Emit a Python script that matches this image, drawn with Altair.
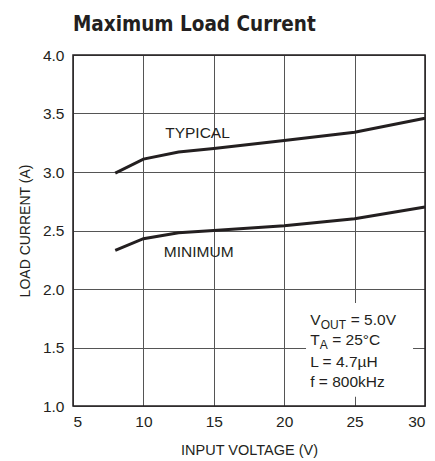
import altair as alt
import pandas as pd

# Data
input_v = [8, 10, 12.5, 15, 20, 25, 30]
typical = [2.99, 3.11, 3.17, 3.20, 3.27, 3.34, 3.46]
minimum = [2.33, 2.43, 2.48, 2.50, 2.54, 2.60, 2.70]

x_ticks = [5, 10, 15, 20, 25, 30]
y_ticks = [1.0, 1.5, 2.0, 2.5, 3.0, 3.5, 4.0]

curve_labels = ["TYPICAL", "MINIMUM"]
curve_label_x = [11.55, 11.45]
curve_label_y = [3.33, 2.315]

box_x = [21.55, 29.15]
box_y = [1.08, 1.88]

cond_x = 21.85
cond_lines_y = [1.69, 1.52, 1.335, 1.16]

FONT = "Liberation Sans"
TFONT = "DejaVu Sans Condensed, Liberation Sans, sans-serif"
INK = "#231f20"

df = pd.DataFrame({
    "v": input_v * 2,
    "i": typical + minimum,
    "s": ["TYPICAL"] * len(input_v) + ["MINIMUM"] * len(input_v),
})

xs = alt.Scale(domain=[5, 30], nice=False)
ys = alt.Scale(domain=[1.0, 4.0], nice=False)

lines = alt.Chart(df).mark_line(color=INK, strokeWidth=3, strokeCap="butt").encode(
    x=alt.X("v:Q", scale=xs,
            axis=alt.Axis(values=x_ticks, title="INPUT VOLTAGE (V)", format="d",
                          grid=True, gridColor="#555555", gridWidth=1, ticks=False,
                          domain=False, labelPadding=8, titlePadding=14,
                          labelFontSize=15.5, titleFontSize=14.5, labelFont=FONT,
                          titleFont=FONT, titleFontWeight="normal",
                          labelColor=INK, titleColor=INK)),
    y=alt.Y("i:Q", scale=ys,
            axis=alt.Axis(values=y_ticks, title="LOAD CURRENT (A)", format=".1f",
                          grid=True, gridColor="#555555", gridWidth=1, ticks=False,
                          domain=False, labelPadding=9, titlePadding=10,
                          labelFontSize=15.5, titleFontSize=14, labelFont=FONT,
                          titleFont=FONT, titleFontWeight="normal",
                          labelColor=INK, titleColor=INK)),
    detail="s:N",
)

box_df = pd.DataFrame({"x1": [box_x[0]], "x2": [box_x[1]], "y1": [box_y[0]], "y2": [box_y[1]]})
box = alt.Chart(box_df).mark_rect(color="white").encode(
    x=alt.X("x1:Q", scale=xs), x2="x2:Q", y=alt.Y("y1:Q", scale=ys), y2="y2:Q")

lab_df = pd.DataFrame({"t": curve_labels, "x": curve_label_x, "y": curve_label_y})
labs = alt.Chart(lab_df).mark_text(font=FONT, fontSize=15.5, color=INK, align="left",
                                   baseline="middle").encode(
    x=alt.X("x:Q", scale=xs), y=alt.Y("y:Q", scale=ys), text="t:N")

# Condition text lines with subscripts built from pieces
cond_df = pd.DataFrame({
    "t": ["V", "OUT", "= 5.0V", "T", "A", "= 25°C", "L = 4.7µH", "f = 800kHz"],
    "x": [cond_x] * 8,
    "y": [cond_lines_y[0], cond_lines_y[0], cond_lines_y[0],
          cond_lines_y[1], cond_lines_y[1], cond_lines_y[1],
          cond_lines_y[2], cond_lines_y[3]],
    "dx": [0, 10.5, 40.5, 0, 9.5, 22, 0, 0],
    "dy": [0, 4, 0, 0, 4, 0, 0, 0],
    "fs": [15.5, 12, 15.5, 15.5, 12, 15.5, 15.5, 15.5],
})
cond_layers = []
for _, r in cond_df.iterrows():
    one = pd.DataFrame([r])
    cond_layers.append(
        alt.Chart(one).mark_text(font=FONT, fontSize=float(r["fs"]), color=INK,
                                 align="left", baseline="alphabetic",
                                 dx=float(r["dx"]), dy=float(r["dy"])).encode(
            x=alt.X("x:Q", scale=xs), y=alt.Y("y:Q", scale=ys), text="t:N"))

frame = alt.Chart(pd.DataFrame({"a": [0]})).mark_rect(
    fill=None, stroke=INK, strokeWidth=1.5).encode(
    x=alt.value(0), x2=alt.value(352), y=alt.value(0), y2=alt.value(351))

title = alt.Chart(pd.DataFrame({"t": ["Maximum Load Current"]})).mark_text(
    font=TFONT, fontSize=20.5, fontWeight="bold", color=INK, align="left",
    baseline="alphabetic").encode(x=alt.value(0), y=alt.value(-24), text="t:N")

chart = alt.layer(box, lines, labs, *cond_layers, frame, title).properties(
    width=352, height=351,
    autosize=alt.AutoSizeParams(type="none"),
    padding={"left": 65, "top": 47, "right": 2, "bottom": 54},
).configure_view(stroke=None).configure(background="white")

chart.save("out.html", embed_options={"renderer": "svg", "actions": False})
